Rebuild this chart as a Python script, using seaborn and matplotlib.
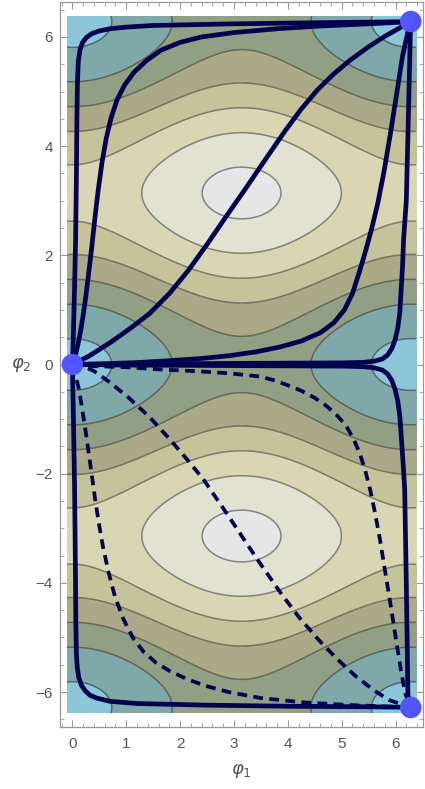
import numpy as np
import matplotlib
matplotlib.use("Agg")
import matplotlib.pyplot as plt
from matplotlib.ticker import MultipleLocator
import seaborn as sns

sns.set_style("ticks")
plt.rcParams['font.family'] = ['Liberation Sans', 'DejaVu Sans']
plt.rcParams['mathtext.fontset'] = 'dejavusans'

# potential: V = -A1 cos(phi1) - A2 cos(phi2)
coef_phi1 = 0.43
coef_phi2 = 1.0
levels = [-1.6, -1.32, -0.88, -0.44, 0.0, 0.44, 0.88, 1.32, 1.6]
band_colors = ['#8bc6d9', '#7fa9a9', '#919f85', '#aaaa88', '#c5c39a',
               '#d9d6b4', '#e2e2d2', '#e6e6e6']
phi1_range = [-0.1, 2 * np.pi + 0.1]
phi2_range = [-2 * np.pi - 0.1, 2 * np.pi + 0.1]

# solid paths (0,0) -> (2pi, 2pi)
a_x = [0, 0.02, 0.04, 0.06, 0.075, 0.085, 0.095, 0.11, 0.14, 0.19, 0.26, 0.36, 0.5, 0.7, 1.0,
       1.5, 3.0, 4.5, 6.28]
a_y = [0, 0.6, 1.4, 2.3, 3.5, 4.6, 5.2, 5.55, 5.76, 5.9, 5.99, 6.06, 6.11, 6.15, 6.18,
       6.21, 6.24, 6.26, 6.28]
b_x = [0, 0.05, 0.1, 0.15, 0.2, 0.25, 0.3, 0.36, 0.42, 0.48, 0.55, 0.63, 0.72, 0.83, 0.97,
       1.15, 1.38, 1.65, 2.0, 2.4, 3.0, 3.8, 4.6, 5.5, 6.28]
b_y = [0, 0.15, 0.35, 0.6, 0.9, 1.25, 1.65, 2.15, 2.7, 3.2, 3.7, 4.15, 4.52, 4.85, 5.12,
       5.36, 5.57, 5.76, 5.9, 6.0, 6.08, 6.15, 6.2, 6.24, 6.28]
c_x = [0, 0.3, 0.7, 1.1, 1.44, 1.8, 2.15, 2.5, 2.86, 3.2, 3.6, 3.95, 4.25, 4.55, 4.85, 5.15,
       5.5, 5.8, 6.05, 6.28]
c_y = [0, 0.15, 0.4, 0.68, 0.94, 1.3, 1.72, 2.2, 2.72, 3.2, 3.78, 4.28, 4.68, 5.03, 5.32,
       5.57, 5.82, 6.01, 6.15, 6.28]
d_x = [0, 0.6, 1.2, 1.8, 2.4, 2.9, 3.4, 3.85, 4.25, 4.6, 4.85, 5.05, 5.2, 5.33, 5.45, 5.56,
       5.67, 5.78, 5.9, 6.02, 6.13, 6.22, 6.28]
d_y = [0, 0.015, 0.035, 0.07, 0.11, 0.16, 0.23, 0.32, 0.43, 0.58, 0.76, 1.0, 1.3, 1.7, 2.1,
       2.5, 2.95, 3.5, 4.2, 4.95, 5.65, 6.05, 6.28]
e_x = [0, 1.0, 3.0, 5.0, 5.4, 5.6, 5.75, 5.85, 5.93, 5.99, 6.04, 6.08, 6.1, 6.13, 6.15,
       6.2, 6.24, 6.28]
e_y = [0, 0.01, 0.02, 0.03, 0.04, 0.06, 0.1, 0.17, 0.29, 0.45, 0.66, 0.95, 1.3, 1.8, 2.3,
       3.0, 4.6, 6.28]

# solid paths (0,0) -> (2pi, -2pi)
f_x = [0, 1.0, 3.0, 5.0, 5.4, 5.6, 5.75, 5.85, 5.93, 5.99, 6.04, 6.08, 6.11, 6.14, 6.17,
       6.2, 6.23, 6.28]
f_y = [0, -0.01, -0.02, -0.03, -0.04, -0.06, -0.1, -0.17, -0.29, -0.45, -0.66, -0.95,
       -1.37, -1.8, -2.28, -4.0, -6.05, -6.28]
g_x = [0, 0.02, 0.04, 0.055, 0.065, 0.075, 0.09, 0.12, 0.17, 0.24, 0.33, 0.45, 0.7, 1.2,
       2.5, 4.0, 5.5, 6.28]
g_y = [0, -1.0, -2.2, -3.6, -4.8, -5.3, -5.55, -5.74, -5.88, -5.98, -6.06, -6.11, -6.17,
       -6.21, -6.24, -6.26, -6.27, -6.28]

# dashed paths (0,0) -> (2pi, -2pi)
h_x = [0, 0.06, 0.12, 0.18, 0.24, 0.3, 0.36, 0.42, 0.49, 0.57, 0.67, 0.79, 0.95, 1.12,
       1.32, 1.55, 1.8, 2.1, 2.45, 2.9, 3.5, 4.3, 5.2, 6.28]
h_y = [0, -0.2, -0.45, -0.8, -1.18, -1.6, -2.02, -2.45, -2.9, -3.35, -3.8, -4.25, -4.67,
       -5.0, -5.26, -5.46, -5.61, -5.75, -5.88, -6.0, -6.11, -6.19, -6.24, -6.28]
i_x = [0, 0.2, 0.4, 0.7, 1.07, 1.44, 1.81, 2.13, 2.43, 2.86, 3.42, 3.85, 4.2, 4.55, 4.9,
       5.25, 5.6, 5.89, 6.28]
i_y = [0, -0.03, -0.12, -0.33, -0.63, -0.97, -1.37, -1.74, -2.1, -2.72, -3.55, -4.16,
       -4.62, -5.02, -5.38, -5.7, -5.97, -6.15, -6.28]
j_x = [0, 0.39, 1.0, 1.63, 2.25, 2.9, 3.48, 3.75, 4.0, 4.25, 4.5, 4.72, 4.92, 5.08, 5.22,
       5.34, 5.44, 5.53, 5.62, 5.71, 5.8, 5.9, 6.0, 6.1, 6.18, 6.28]
j_y = [0, -0.03, -0.05, -0.09, -0.12, -0.16, -0.22, -0.29, -0.38, -0.48, -0.61, -0.76,
       -0.94, -1.12, -1.36, -1.64, -1.95, -2.3, -2.72, -3.2, -3.75, -4.35, -4.98, -5.6,
       -6.03, -6.28]

dots_x = [0, 2 * np.pi, 2 * np.pi]
dots_y = [0, 2 * np.pi, -2 * np.pi]

line_col = '#03034f'
dot_col = '#5555ff'
gray = '#555555'

fig = plt.figure(figsize=(4.25, 7.89), dpi=100)
ax = fig.add_axes([60 / 425, 1 - 727 / 789, 363 / 425, 725 / 789])

p1 = np.linspace(phi1_range[0], phi1_range[1], 300)
p2 = np.linspace(phi2_range[0], phi2_range[1], 600)
P1, P2 = np.meshgrid(p1, p2)
V = -coef_phi1 * np.cos(P1) - coef_phi2 * np.cos(P2)
ax.contourf(P1, P2, V, levels=levels, colors=band_colors, zorder=1)
ax.contour(P1, P2, V, levels=levels[1:-1], colors='#333333', alpha=0.55,
           linewidths=1.1, linestyles='solid', zorder=2)

for xs, ys in [(a_x, a_y), (b_x, b_y), (c_x, c_y), (d_x, d_y), (e_x, e_y),
               (f_x, f_y), (g_x, g_y)]:
    sns.lineplot(x=xs, y=ys, sort=False, estimator=None, color=line_col,
                 linewidth=3.4, solid_joinstyle='round', solid_capstyle='round',
                 ax=ax, zorder=3)
for xs, ys in [(h_x, h_y), (i_x, i_y), (j_x, j_y)]:
    sns.lineplot(x=xs, y=ys, sort=False, estimator=None, color=line_col,
                 linewidth=2.7, linestyle=(0, (2.6, 1.7)), dash_joinstyle='round',
                 ax=ax, zorder=3)

sns.scatterplot(x=dots_x, y=dots_y, s=240, color=dot_col, edgecolor='none',
                ax=ax, zorder=5, clip_on=False)

ax.set_xlim(-0.23, 6.51)
ax.set_ylim(-6.64, 6.64)
ax.set_xticks(range(0, 7))
ax.set_yticks([-6, -4, -2, 0, 2, 4, 6])
ax.set_yticklabels(['\u22126', '\u22124', '\u22122', '0', '2', '4', '6'])
ax.xaxis.set_minor_locator(MultipleLocator(0.2))
ax.yaxis.set_minor_locator(MultipleLocator(0.5))
ax.tick_params(which='both', direction='in', top=True, right=True,
               color='#999999', labelcolor=gray, labelsize=11)
ax.tick_params(which='major', length=5, width=0.8)
ax.tick_params(which='minor', length=3, width=0.6)
ax.tick_params(axis='x', pad=7)
ax.tick_params(axis='y', pad=5)
for sp in ax.spines.values():
    sp.set_color('#999999')
    sp.set_linewidth(0.9)

ax.set_xlabel(r'$\varphi_1$', fontsize=13, color=gray, labelpad=8)
ax.set_ylabel(r'$\varphi_2$', fontsize=13, color=gray, rotation=0, labelpad=10,
              va='center')

fig.savefig('out.png', dpi=100)
